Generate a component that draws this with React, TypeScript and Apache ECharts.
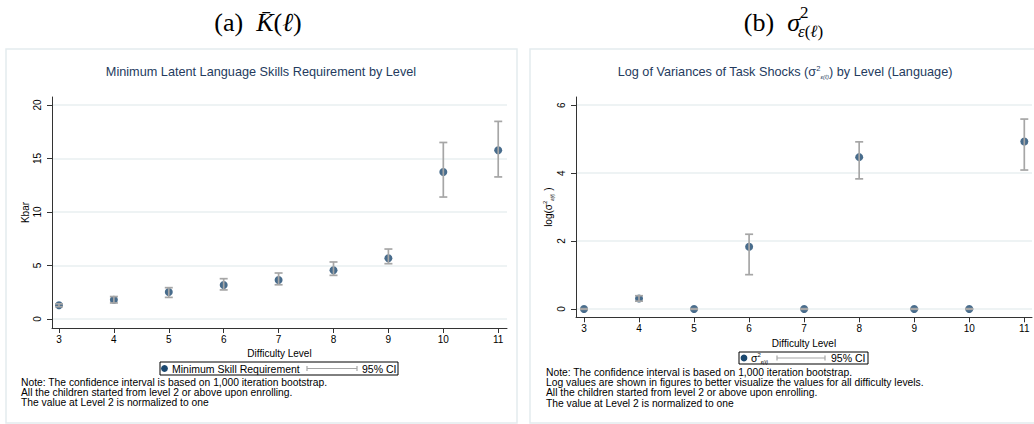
import React, { useEffect, useRef } from "react";
import * as echarts from "echarts";

const levels = [3, 4, 5, 6, 7, 8, 9, 10, 11];
const kbar = [1.28, 1.8, 2.52, 3.18, 3.64, 4.55, 5.68, 13.74, 15.78];
const kbarLo = [1.15, 1.5, 2.02, 2.72, 3.2, 4.08, 5.17, 11.4, 13.28];
const kbarHi = [1.42, 2.1, 2.93, 3.77, 4.3, 5.33, 6.54, 16.5, 18.47];
const logVar = [0, 0.31, 0, 1.83, 0, 4.47, 0, 0, 4.93];
const logLo = [-0.01, 0.23, -0.01, 1.01, -0.01, 3.83, -0.01, -0.01, 4.09];
const logHi = [0.01, 0.39, 0.01, 2.2, 0.01, 4.92, 0.01, 0.01, 5.59];
const kbarTicks = [0, 5, 10, 15, 20];
const logTicks = [0, 2, 4, 6];

const NAVY = "#1a476f";
const GRAY = "#a6a6a6";
const AXIS = "#333333";
const TITLE = "#243b5e";
const SANS = "Liberation Sans, Arial, sans-serif";
const SERIF = "Liberation Serif, DejaVu Serif, serif";

function errRender(params: any, api: any) {
  const x = api.value(0);
  const p1 = api.coord([x, api.value(1)]);
  const p2 = api.coord([x, api.value(2)]);
  const w = 4;
  const style = { stroke: GRAY, lineWidth: 1.7 };
  return {
    type: "group",
    children: [
      { type: "line", shape: { x1: p1[0], y1: p1[1], x2: p2[0], y2: p2[1] }, style },
      { type: "line", shape: { x1: p1[0] - w, y1: p1[1], x2: p1[0] + w, y2: p1[1] }, style },
      { type: "line", shape: { x1: p2[0] - w, y1: p2[1], x2: p2[0] + w, y2: p2[1] }, style },
    ],
  };
}

function xAxisCfg(gridIndex: number, min: number, max: number) {
  return {
    type: "value",
    gridIndex,
    min,
    max,
    name: "Difficulty Level",
    nameLocation: "middle",
    nameGap: 19,
    nameTextStyle: { fontFamily: SANS, fontSize: 10, color: "#000" },
    axisLine: { show: true, onZero: false, lineStyle: { color: AXIS, width: 1 } },
    axisTick: { show: true, length: 5, lineStyle: { color: AXIS }, customValues: levels },
    axisLabel: { fontFamily: SANS, fontSize: 10, color: "#000", margin: 6, customValues: levels },
    splitLine: { show: false },
  };
}

function yAxisCfg(gridIndex: number, min: number, max: number, ticks: number[], name: string, rich?: any) {
  return {
    type: "value",
    gridIndex,
    min,
    max,
    name,
    nameLocation: "middle",
    nameGap: 22,
    nameRotate: 90,
    nameTextStyle: { fontFamily: SANS, fontSize: 10, color: "#000", rich },
    axisLine: { show: true, onZero: false, lineStyle: { color: AXIS, width: 1 } },
    axisTick: { show: true, length: 5, lineStyle: { color: AXIS }, customValues: ticks },
    axisLabel: { fontFamily: SANS, fontSize: 10, color: "#000", margin: 10, rotate: 90, customValues: ticks },
    splitLine: { show: true, lineStyle: { color: "#e8eff1", width: 1.5 } },
  };
}

export default function App() {
  const ref = useRef<HTMLDivElement>(null);
  useEffect(() => {
    document.body.style.margin = "0";
    document.body.style.background = "#fff";
    const chart = echarts.init(ref.current!, null, { renderer: "svg" });
    const option: any = {
      animation: false,
      backgroundColor: "#fff",
      grid: [
        { left: 52, top: 97, width: 455, height: 231, outerBoundsMode: "none" },
        { left: 576, top: 97, width: 456, height: 220.3, outerBoundsMode: "none" },
      ],
      xAxis: [xAxisCfg(0, 2.873, 11.16), xAxisCfg(1, 2.855, 11.14)],
      yAxis: [
        yAxisCfg(0, -0.84, 20.75, kbarTicks, "Kbar"),
        yAxisCfg(1, -0.245, 6.24, logTicks, "{n|log(σ}{sup|2}{sub|ε(ℓ)}{n| )}", {
          n: { fontFamily: SANS, fontSize: 10, color: "#000", lineHeight: 12 },
          sup: { fontFamily: SANS, fontSize: 6, color: "#000", verticalAlign: "top", lineHeight: 12 },
          sub: { fontFamily: SANS, fontSize: 5, color: "#000", fontStyle: "italic", verticalAlign: "bottom", lineHeight: 12 },
        }),
      ],
      series: [
        {
          type: "scatter",
          xAxisIndex: 0,
          yAxisIndex: 0,
          symbolSize: 8,
          itemStyle: { color: NAVY },
          z: 2,
          data: levels.map((l, i) => [l, kbar[i]]),
        },
        {
          type: "custom",
          xAxisIndex: 0,
          yAxisIndex: 0,
          z: 3,
          renderItem: errRender,
          encode: { x: 0, y: [1, 2] },
          data: levels.map((l, i) => [l, kbarLo[i], kbarHi[i]]),
        },
        {
          type: "scatter",
          xAxisIndex: 1,
          yAxisIndex: 1,
          symbolSize: 8,
          itemStyle: { color: NAVY },
          z: 2,
          data: levels.map((l, i) => [l, logVar[i]]),
        },
        {
          type: "custom",
          xAxisIndex: 1,
          yAxisIndex: 1,
          z: 3,
          renderItem: errRender,
          encode: { x: 0, y: [1, 2] },
          data: levels.map((l, i) => [l, logLo[i], logHi[i]]),
        },
      ],
      graphic: [
        // panel frames
        { type: "rect", z: -10, shape: { x: 6, y: 49, width: 511, height: 374 }, style: { fill: "#fff", stroke: "#e4ebee", lineWidth: 1.5 } },
        { type: "rect", z: -10, shape: { x: 530, y: 49, width: 510, height: 374 }, style: { fill: "#fff", stroke: "#e4ebee", lineWidth: 1.5 } },
        // big titles
        {
          type: "text",
          x: 258,
          y: 22,
          style: {
            text: "{n|(a)  }{i|K\u0304}{n|(}{i|ℓ}{n|)}",
            align: "center",
            verticalAlign: "middle",
            rich: {
              n: { fontFamily: SERIF, fontSize: 26, fill: "#000" },
              i: { fontFamily: SERIF, fontSize: 26, fontStyle: "italic", fill: "#000" },
            },
          },
        },
        {
          type: "text",
          x: 800,
          y: 22,
          style: {
            text: "{n|(b)  }{i|σ}",
            align: "right",
            verticalAlign: "middle",
            rich: {
              n: { fontFamily: SERIF, fontSize: 26, fill: "#000" },
              i: { fontFamily: SERIF, fontSize: 26, fontStyle: "italic", fill: "#000" },
            },
          },
        },
        {
          type: "text",
          x: 800,
          y: 12,
          style: { text: "2", fontFamily: SERIF, fontSize: 17, fill: "#000", align: "left", verticalAlign: "middle" },
        },
        {
          type: "text",
          x: 798,
          y: 31,
          style: {
            text: "{i|ε}{n|(}{i|ℓ}{n|)}",
            align: "left",
            verticalAlign: "middle",
            rich: {
              n: { fontFamily: SERIF, fontSize: 17, fill: "#000" },
              i: { fontFamily: SERIF, fontSize: 17, fontStyle: "italic", fill: "#000" },
            },
          },
        },
        // panel titles
        {
          type: "text",
          x: 261,
          y: 72,
          style: {
            text: "Minimum Latent Language Skills Requirement by Level",
            fontFamily: SANS,
            fontSize: 12.7,
            fill: TITLE,
            align: "center",
            verticalAlign: "middle",
          },
        },
        {
          type: "text",
          x: 785,
          y: 72,
          style: {
            text: "{n|Log of Variances of Task Shocks (σ}{sup|2}{sub|ε(ℓ)}{n|) by Level (Language)}",
            align: "center",
            verticalAlign: "middle",
            rich: {
              n: { fontFamily: SANS, fontSize: 12.7, fill: TITLE, lineHeight: 15 },
              sup: { fontFamily: SANS, fontSize: 7.5, fill: TITLE, verticalAlign: "top", lineHeight: 15 },
              sub: { fontFamily: SANS, fontSize: 6, fill: TITLE, fontStyle: "italic", verticalAlign: "bottom", lineHeight: 15 },
            },
          },
        },
        // left legend
        { type: "rect", shape: { x: 160, y: 362, width: 238, height: 13 }, style: { fill: "#fff", stroke: "#000", lineWidth: 1 } },
        { type: "circle", shape: { cx: 164.5, cy: 368.5, r: 3.4 }, style: { fill: NAVY } },
        {
          type: "text",
          x: 172,
          y: 368.5,
          style: { text: "Minimum Skill Requirement", fontFamily: SANS, fontSize: 10.5, fill: "#000", verticalAlign: "middle" },
        },
        { type: "line", shape: { x1: 307, y1: 368.5, x2: 357, y2: 368.5 }, style: { stroke: GRAY, lineWidth: 1.2 } },
        { type: "line", shape: { x1: 307, y1: 366, x2: 307, y2: 371 }, style: { stroke: GRAY, lineWidth: 1.2 } },
        { type: "line", shape: { x1: 357, y1: 366, x2: 357, y2: 371 }, style: { stroke: GRAY, lineWidth: 1.2 } },
        {
          type: "text",
          x: 362,
          y: 368.5,
          style: { text: "95% CI", fontFamily: SANS, fontSize: 10.5, fill: "#000", verticalAlign: "middle" },
        },
        // left notes
        {
          type: "text",
          x: 21,
          y: 377,
          style: {
            text:
              "Note: The confidence interval is based on 1,000 iteration bootstrap.\nAll the children started from level 2 or above upon enrolling.\nThe value at Level 2 is normalized to one",
            fontFamily: SANS,
            fontSize: 10.3,
            lineHeight: 10.3,
            fill: "#000",
            verticalAlign: "top",
          },
        },
        // right legend
        { type: "rect", shape: { x: 739, y: 352, width: 129, height: 12 }, style: { fill: "#fff", stroke: "#000", lineWidth: 1 } },
        { type: "circle", shape: { cx: 744, cy: 358, r: 3.4 }, style: { fill: NAVY } },
        {
          type: "text",
          x: 751,
          y: 358,
          style: {
            text: "{n|σ}{sup|2}{sub|ε(ℓ)}",
            verticalAlign: "middle",
            rich: {
              n: { fontFamily: SANS, fontSize: 10.5, fill: "#000", lineHeight: 12 },
              sup: { fontFamily: SANS, fontSize: 6, fill: "#000", verticalAlign: "top", lineHeight: 12 },
              sub: { fontFamily: SANS, fontSize: 5, fill: "#000", fontStyle: "italic", verticalAlign: "bottom", lineHeight: 12 },
            },
          },
        },
        { type: "line", shape: { x1: 777, y1: 358, x2: 825, y2: 358 }, style: { stroke: GRAY, lineWidth: 1.2 } },
        { type: "line", shape: { x1: 777, y1: 355.5, x2: 777, y2: 360.5 }, style: { stroke: GRAY, lineWidth: 1.2 } },
        { type: "line", shape: { x1: 825, y1: 355.5, x2: 825, y2: 360.5 }, style: { stroke: GRAY, lineWidth: 1.2 } },
        {
          type: "text",
          x: 831,
          y: 358,
          style: { text: "95% CI", fontFamily: SANS, fontSize: 10.5, fill: "#000", verticalAlign: "middle" },
        },
        // right notes
        {
          type: "text",
          x: 546,
          y: 367,
          style: {
            text:
              "Note: The confidence interval is based on 1,000 iteration bootstrap.\nLog values are shown in figures to better visualize the values for all difficulty levels.\nAll the children started from level 2 or above upon enrolling.\nThe value at Level 2 is normalized to one",
            fontFamily: SANS,
            fontSize: 10.3,
            lineHeight: 10.3,
            fill: "#000",
            verticalAlign: "top",
          },
        },
      ],
    };
    chart.setOption(option);
    return () => chart.dispose();
  }, []);
  return (
    <div
      ref={ref}
      style={{ position: "fixed", left: 0, top: 0, width: 1034, height: 424, background: "#fff" }}
    />
  );
}
